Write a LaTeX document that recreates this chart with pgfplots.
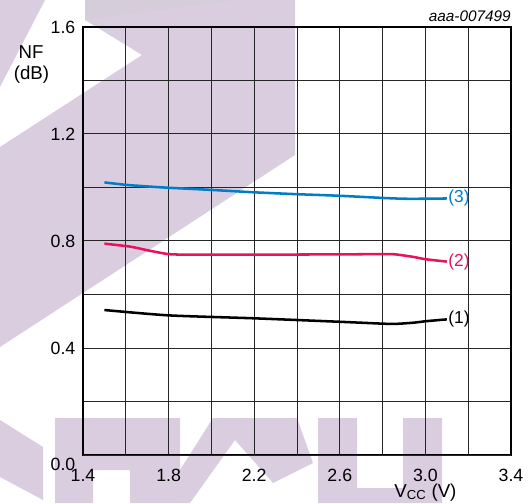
\documentclass[border=0pt]{standalone}
\usepackage{fontspec}
\setmainfont{Liberation Sans}
\usepackage{pgfplots}
\pgfplotsset{compat=1.18}
\definecolor{wm}{RGB}{218,205,224}
\definecolor{wmg}{RGB}{213,205,217}
\definecolor{cthree}{RGB}{0,125,195}
\definecolor{ctwo}{RGB}{232,18,92}
\begin{document}
\begin{tikzpicture}
\path[use as bounding box] (0,0) rectangle (397.5pt,377.25pt);
% background watermark (pixel coordinates, y downwards)
\begin{scope}[x=0.75pt,y=-0.75pt,yshift=377.25pt]
\fill[wm] (0,0)--(45,0)--(0,87)--cycle;
\fill[wm] (85,0)--(295,0)--(295,155)--(0,347)--(0,147)--(142,55)--(85,20)--cycle;
\fill[wmg] (85,0)--(235,0)--(85,20)--cycle;
\fill[wm] (0,420)--(43,447)--(43,500)--(0,477)--cycle;
\fill[wm] (55,418)--(180,418)--(180,503)--(130,503)--(130,470)--(93,470)--(93,503)--(55,503)--cycle;
\fill[wm] (213,418)--(297,418)--(313,463)--(273,483)--(235,440)--(190,503)--(180,503)--(180,470)--cycle;
\fill[wm] (318,418)--(357,418)--(357,488)--(403,488)--(403,418)--(442,418)--(442,503)--(318,503)--cycle;
\end{scope}
\begin{axis}[
  at={(62.25pt,36pt)}, anchor=south west,
  width=321pt, height=321pt, scale only axis,
  xmin=1.4, xmax=3.4, ymin=0, ymax=1.6,
  xtick={1.4,1.8,2.2,2.6,3.0,3.4},
  minor xtick={1.6,2.0,2.4,2.8,3.2},
  ytick={0.4,0.8,1.2,1.6},
  minor ytick={0.2,0.6,1.0,1.4},
  extra y ticks={0},
  extra y tick labels={0.0},
  extra y tick style={yticklabel style={yshift=-7pt}},
  grid=both,
  major grid style={black!85, line width=0.75pt},
  minor grid style={black!85, line width=0.75pt},
  major tick length=0pt, minor tick length=0pt,
  axis line style={black, line width=0.9pt},
  tick label style={font=\fontsize{13.3}{15}\selectfont},
  xticklabel style={yshift=-7.4pt},
  yticklabel style={xshift=-2.2pt},
  /pgf/number format/assume math mode=true,
  /pgf/number format/.cd, fixed, fixed zerofill, precision=1,
  /pgfplots/.cd,
  clip=false,
]
\addplot[cthree, line width=1.9pt, smooth, tension=0.4] coordinates {
  (1.5,1.019) (1.6,1.010) (1.7,1.004) (1.8,0.999) (2.0,0.991) (2.2,0.982)
  (2.4,0.975) (2.6,0.969) (2.8,0.961) (2.9,0.958) (3.0,0.958) (3.1,0.959)
};
\addplot[ctwo, line width=1.9pt, smooth, tension=0.4] coordinates {
  (1.5,0.790) (1.62,0.779) (1.71,0.764) (1.8,0.751) (1.9,0.749) (2.2,0.749)
  (2.6,0.750) (2.8,0.751) (2.86,0.750) (2.94,0.741) (3.0,0.732) (3.1,0.723)
};
\addplot[black, line width=1.9pt, smooth, tension=0.4] coordinates {
  (1.5,0.542) (1.8,0.522) (2.2,0.511) (2.6,0.498) (2.8,0.491) (2.86,0.490)
  (2.95,0.495) (3.0,0.500) (3.1,0.507)
};
\node[anchor=west, text=cthree, inner sep=1pt, font=\fontsize{13}{15}\selectfont] at (axis cs:3.1,0.959) {(3)};
\node[anchor=west, text=ctwo, inner sep=1pt, font=\fontsize{13}{15}\selectfont] at (axis cs:3.1,0.723) {(2)};
\node[anchor=west, text=black, inner sep=1pt, font=\fontsize{13}{15}\selectfont] at (axis cs:3.1,0.507) {(1)};
\node[anchor=base, inner sep=0pt, yshift=-31.5pt, font=\fontsize{14}{16}\selectfont] at (rel axis cs:0.8,0) {V\textsubscript{CC} (V)};
\end{axis}
\begin{scope}[x=0.75pt,y=-0.75pt,yshift=377.25pt]
\node[anchor=base, inner sep=0pt, font=\fontsize{14}{16}\selectfont] at (31,58.3) {NF};
\node[anchor=base, inner sep=0pt, font=\fontsize{14}{16}\selectfont] at (31.5,80) {(dB)};
\node[anchor=base east, inner sep=0pt, font=\itshape\fontsize{11.5}{13}\selectfont] at (511,22) {aaa-007499};
\end{scope}
\end{tikzpicture}
\end{document}
